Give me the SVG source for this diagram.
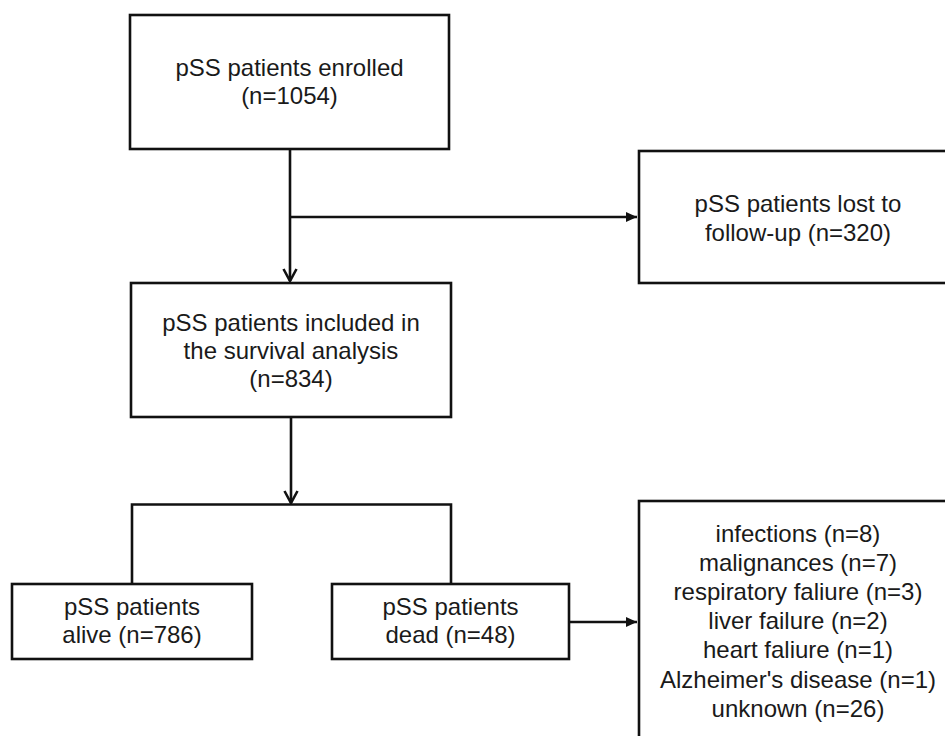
<svg xmlns="http://www.w3.org/2000/svg" width="945" height="736" viewBox="0 0 945 736">
  <style>
    .box { fill: #ffffff; stroke: #111111; stroke-width: 2.6; }
    .conn { fill: none; stroke: #111111; stroke-width: 2.6; }
    text { font-family: "Liberation Sans", Arial, sans-serif; font-size: 24px; fill: #1a1a1a; text-anchor: middle; }
  </style>
  <defs>
    <marker id="filled" markerUnits="userSpaceOnUse" markerWidth="12" markerHeight="12" viewBox="0 0 12 12" refX="11" refY="6" orient="auto">
      <path d="M0,1 L11,6 L0,11 Z" fill="#111111"/>
    </marker>
    <marker id="open" markerUnits="userSpaceOnUse" markerWidth="16" markerHeight="16" viewBox="0 0 16 16" refX="14" refY="8" orient="auto">
      <path d="M2,1.5 L14,8 L2,14.5" fill="none" stroke="#111111" stroke-width="2.6"/>
    </marker>
  </defs>
  <rect width="945" height="736" fill="#ffffff"/>

  <g id="connectors">
    <path class="conn" d="M290,149 V281" marker-end="url(#open)"/>
    <path class="conn" d="M290,217 H637" marker-end="url(#filled)"/>
    <path class="conn" d="M291,417 V503" marker-end="url(#open)"/>
    <path class="conn" d="M132,584 V504.5 H451 V584"/>
    <path class="conn" d="M569,622 H637" marker-end="url(#filled)"/>
  </g>

  <g id="enrolled">
    <rect class="box" x="130" y="15" width="319" height="134"/>
    <text x="289.5" y="76">pSS patients enrolled</text>
    <text x="289.5" y="104">(n=1054)</text>
  </g>

  <g id="lost">
    <rect class="box" x="639" y="151" width="318" height="132"/>
    <text x="798" y="212">pSS patients lost to</text>
    <text x="798" y="241">follow-up (n=320)</text>
  </g>

  <g id="included">
    <rect class="box" x="131" y="283" width="320" height="134"/>
    <text x="291" y="331">pSS patients included in</text>
    <text x="291" y="359">the survival analysis</text>
    <text x="291" y="387">(n=834)</text>
  </g>

  <g id="alive">
    <rect class="box" x="12" y="584" width="240" height="75"/>
    <text x="132" y="615">pSS patients</text>
    <text x="132" y="643">alive (n=786)</text>
  </g>

  <g id="dead">
    <rect class="box" x="332" y="584" width="237" height="75"/>
    <text x="450.5" y="615">pSS patients</text>
    <text x="450.5" y="643">dead (n=48)</text>
  </g>

  <g id="causes">
    <rect class="box" x="639" y="501" width="318" height="300"/>
    <text x="798" y="542">infections (n=8)</text>
    <text x="798" y="571">malignances (n=7)</text>
    <text x="798" y="600">respiratory faliure (n=3)</text>
    <text x="798" y="629">liver failure (n=2)</text>
    <text x="798" y="658">heart faliure (n=1)</text>
    <text x="798" y="688">Alzheimer's disease (n=1)</text>
    <text x="798" y="717">unknown (n=26)</text>
  </g>
</svg>
